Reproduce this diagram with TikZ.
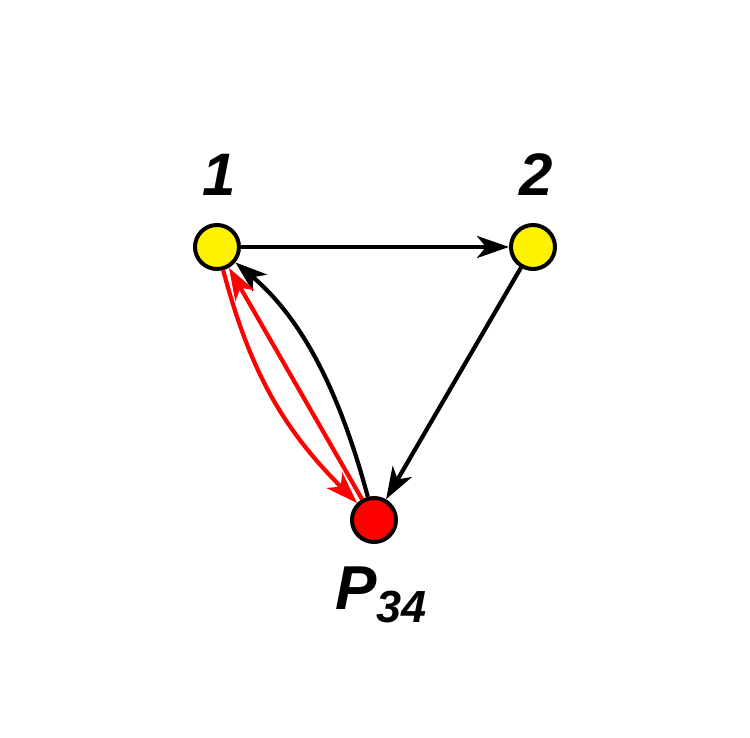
\documentclass[tikz,border=0pt]{standalone}
\usepackage{fontspec}
\setmainfont{Liberation Sans}
\usetikzlibrary{arrows.meta}
\begin{document}
\begin{tikzpicture}[x=1pt,y=1pt,
  vert/.style={circle,draw=black,line width=4pt,minimum size=44pt,inner sep=0pt},
  edge/.style={line width=4.2pt,-{Stealth[length=32pt,width=22pt,inset=9pt]}},
  lbl/.style={font=\fontsize{60}{60}\selectfont\bfseries\itshape,inner sep=0pt}]
\useasboundingbox (0,0) rectangle (750,738);
\node[vert,fill=yellow] (n1) at (217,491) {};
\node[vert,fill=yellow] (n2) at (533,491) {};
\node[vert,fill=red] (p) at (374,218) {};
\node[lbl] (l1) at (219,563) {1};
\node[lbl] (l2) at (536,563) {2};
\node[lbl,anchor=base west,font=\fontsize{62}{62}\selectfont\bfseries\itshape] (lp) at (335,128) {P\raisebox{-13pt}{\fontsize{45}{45}\selectfont 34}};
\draw[edge] (n1) -- (n2);
\draw[edge] (n2) -- (p);
\draw[edge] (p) to[out=105,in=-40,looseness=0.9] (n1);
\draw[edge,red] (p) -- (n1);
\draw[edge,red] (n1) to[bend right=15] (p);
\end{tikzpicture}
\end{document}
